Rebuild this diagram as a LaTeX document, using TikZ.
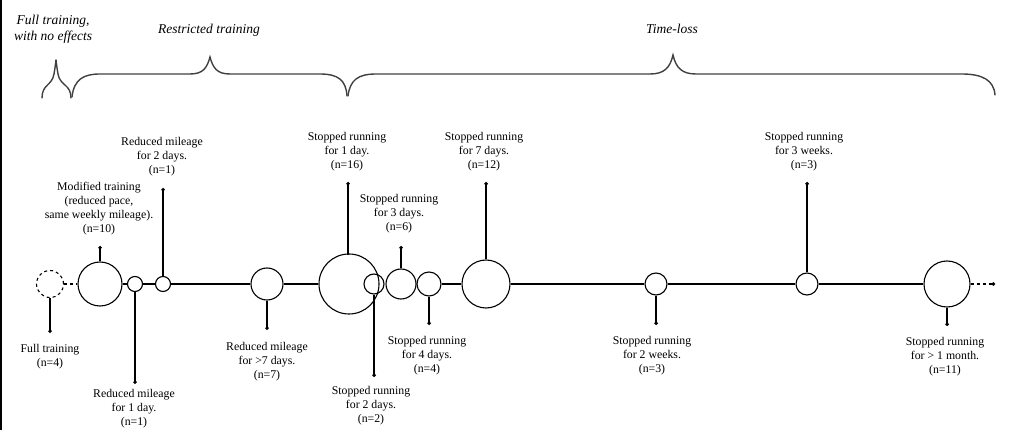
\documentclass[tikz,border=0pt]{standalone}
\usepackage{fontspec}
\setmainfont{Liberation Serif}
\usetikzlibrary{arrows.meta}
\tikzset{
  ev/.style={circle, draw, line width=1.1pt, inner sep=0pt, minimum size=#1},
  evd/.style={circle, draw, dashed, line width=1.1pt, inner sep=0pt, minimum size=#1},
  lbl/.style={font=\fontsize{11.8}{14}\selectfont, align=center, inner sep=0pt},
  conn/.style={line width=1.2pt},
  stem/.style={line width=1.2pt, -{Circle[length=3.5pt]}},
  brc/.style={line width=1.4pt, black!75, line cap=round},
  ttl/.style={font=\fontsize{13.5}{16}\selectfont\itshape, align=center, inner sep=0pt}
}
\begin{document}
\begin{tikzpicture}[x=1pt,y=-1pt]
\useasboundingbox (0,0) rectangle (1013,430);
\fill[black] (0,0) rectangle (2.2,430);

% titles
\node[ttl] (tfull) at (53,29) {Full training,\\with no effects};
\node[ttl] (trest) at (209,30) {Restricted training};
\node[ttl] (tloss) at (672,29) {Time-loss};

% braces
\draw[brc] (42,98) .. controls (42,84) and (52,86) .. (54,74) .. controls (55,68) .. (56,60);
\draw[brc] (71,98) .. controls (71,84) and (60,86) .. (58,74) .. controls (57,68) .. (56,60);
\draw[brc] (72,97) .. controls (74,79) and (84,74) .. (100,74) -- (190,74)
  .. controls (203,74) and (207,68) .. (210,57)
  .. controls (213,68) and (217,74) .. (230,74) -- (320,74)
  .. controls (338,74) and (346,80) .. (347,96);
\draw[brc] (348,96) .. controls (350,80) and (358,74) .. (376,74) -- (650,74)
  .. controls (664,74) and (670,68) .. (673,55)
  .. controls (676,68) and (682,74) .. (696,74) -- (962,74)
  .. controls (982,74) and (994,80) .. (995,95);

% event circles
\node[evd=27] (c0) at (50,284) {};
\node[ev=44] (c1) at (100,284) {};
\node[ev=15] (c2) at (135,284) {};
\node[ev=15] (c3) at (163,284) {};
\node[ev=32] (c4) at (267,284) {};
\node[ev=60] (c5) at (349,284) {};
\node[ev=20] (c6) at (374,284) {};
\node[ev=30] (c7) at (401,284) {};
\node[ev=24] (c8) at (429,284) {};
\node[ev=48] (c9) at (486,284) {};
\node[ev=22] (c10) at (656,284) {};
\node[ev=22] (c11) at (807,284) {};
\node[ev=46] (c12) at (947,284) {};
\coordinate (dend) at (995,284);

% timeline
\draw[conn, dashed] (c0) -- (c1);
\draw[conn] (c1) -- (c2);
\draw[conn] (c2) -- (c3);
\draw[conn] (c3) -- (c4);
\draw[conn] (c4) -- (c5);
\draw[conn] (c8) -- (c9);
\draw[conn] (c9) -- (c10);
\draw[conn] (c10) -- (c11);
\draw[conn] (c11) -- (c12);
\draw[line width=1.2pt, dashed, -{Circle[length=3.5pt]}] (c12) -- (dend);

% stem ends
\coordinate (d0) at (50,333);
\coordinate (d1) at (100,246);
\coordinate (d2) at (135,384);
\coordinate (d3) at (163,188);
\coordinate (d4) at (267,330);
\coordinate (d5) at (348,182);
\coordinate (d6) at (374,377);
\coordinate (d7) at (401,246);
\coordinate (d8) at (429,325);
\coordinate (d9) at (486,182);
\coordinate (d10) at (656,325);
\coordinate (d11) at (807,182);
\coordinate (d12) at (947,326);

\draw[stem] (c0.south) -- (d0);
\draw[stem] (c1.north) -- (d1);
\draw[stem] (c2.south) -- (d2);
\draw[stem] (c3.north) -- (d3);
\draw[stem] (c4.south) -- (d4);
\draw[stem] (348,255) -- (d5);
\draw[stem] (c6.south) -- (d6);
\draw[stem] (c7.north) -- (d7);
\draw[stem] (c8.south) -- (d8);
\draw[stem] (c9.north) -- (d9);
\draw[stem] (c10.south) -- (d10);
\draw[stem] (c11.north) -- (d11);
\draw[stem] (c12.south) -- (d12);

% labels
\node[lbl] (l0) at (50,357) {Full training\\(n=4)};
\node[lbl] (l1) at (99,209) {Modified training\\(reduced pace,\\same weekly mileage).\\(n=10)};
\node[lbl] (l2) at (134,409) {Reduced mileage\\for 1 day.\\(n=1)};
\node[lbl] (l3) at (162,157) {Reduced mileage\\for 2 days.\\(n=1)};
\node[lbl] (l4) at (267,362) {Reduced mileage\\for >7 days.\\(n=7)};
\node[lbl] (l5) at (347,152) {Stopped running\\for 1 day.\\(n=16)};
\node[lbl] (l6) at (371,406) {Stopped running\\for 2 days.\\(n=2)};
\node[lbl] (l7) at (399,214) {Stopped running\\for 3 days.\\(n=6)};
\node[lbl] (l8) at (427,356) {Stopped running\\for 4 days.\\(n=4)};
\node[lbl] (l9) at (484,152) {Stopped running\\for 7 days.\\(n=12)};
\node[lbl] (l10) at (652,356) {Stopped running\\for 2 weeks.\\(n=3)};
\node[lbl] (l11) at (804,152) {Stopped running\\for 3 weeks.\\(n=3)};
\node[lbl] (l12) at (945,357) {Stopped running\\for > 1 month.\\(n=11)};
\end{tikzpicture}
\end{document}
